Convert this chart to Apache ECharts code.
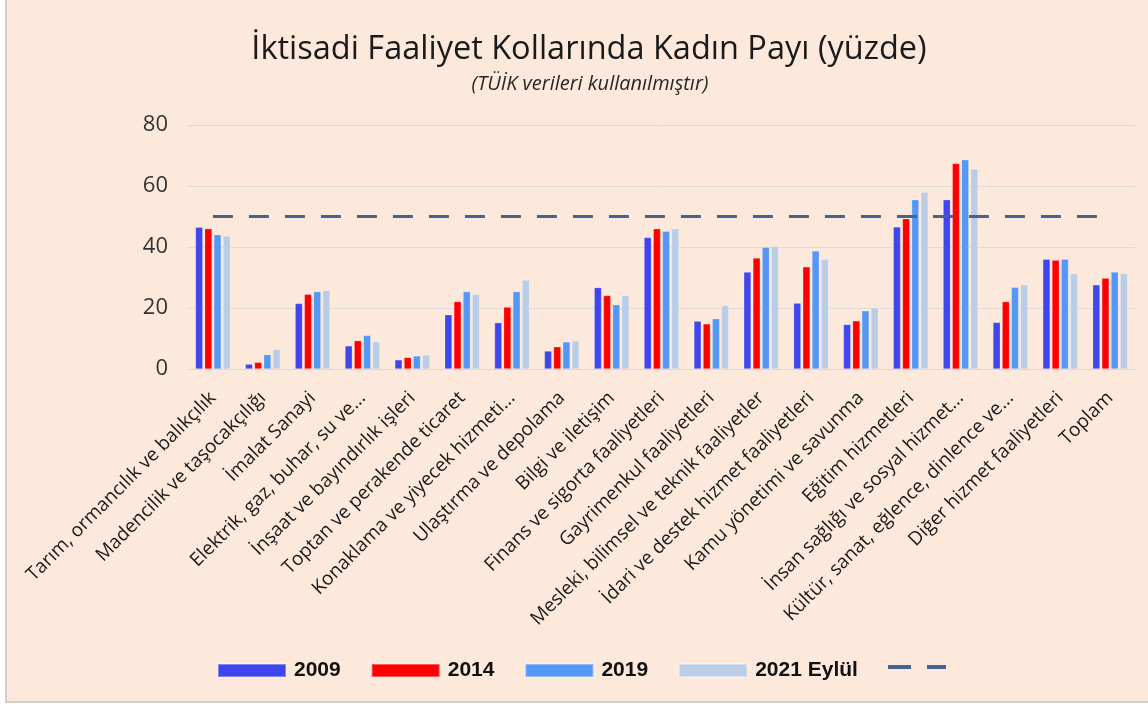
<!DOCTYPE html>
<html>
<head>
<meta charset="utf-8">
<script src="https://cdn.jsdelivr.net/npm/echarts@6/dist/echarts.min.js"></script>
<style>
	html, body { margin: 0; padding: 0; background: #fff; }
	#chart { width: 1148px; height: 706px; }
</style>
</head>
<body>
<div id="chart"></div>
<script>
	// kategoriler (grafikte görünen, kısaltılmış haliyle)
	var categories = [
		"Tarım, ormancılık ve balıkçılık",
		"Madencilik ve taşocakçılığı",
		"İmalat Sanayi",
		"Elektrik, gaz, buhar, su ve...",
		"İnşaat ve bayındırlık işleri",
		"Toptan ve perakende ticaret",
		"Konaklama ve yiyecek hizmeti...",
		"Ulaştırma ve depolama",
		"Bilgi ve iletişim",
		"Finans ve sigorta faaliyetleri",
		"Gayrimenkul faaliyetleri",
		"Mesleki, bilimsel ve teknik faaliyetler",
		"İdari ve destek hizmet faaliyetleri",
		"Kamu yönetimi ve savunma",
		"Eğitim hizmetleri",
		"İnsan sağlığı ve sosyal hizmet...",
		"Kültür, sanat, eğlence, dinlence ve...",
		"Diğer hizmet faaliyetleri",
		"Toplam"
	];

	var data2009 = [46.5, 1.6, 21.5, 7.6, 3.0, 17.8, 15.2, 5.9, 26.7, 43.1, 15.7, 31.8, 21.6, 14.6, 46.6, 55.5, 15.3, 36.0, 27.6];
	var data2014 = [46.0, 2.2, 24.5, 9.3, 3.8, 22.1, 20.3, 7.3, 24.1, 46.0, 14.8, 36.4, 33.5, 15.8, 49.3, 67.4, 22.1, 35.7, 29.8];
	var data2019 = [44.0, 4.7, 25.4, 11.0, 4.3, 25.4, 25.4, 8.9, 21.1, 45.2, 16.5, 39.9, 38.7, 19.1, 55.5, 68.6, 26.8, 36.0, 31.8];
	var data2021 = [43.6, 6.4, 25.8, 8.9, 4.6, 24.5, 29.2, 9.2, 24.1, 46.0, 20.8, 40.2, 36.0, 20.0, 58.0, 65.6, 27.6, 31.3, 31.3];

	// %50 referans çizgisi
	var refValue = 50;
	var refLine = categories.map(function() { return refValue; });

	var yTicks = [0, 20, 40, 60, 80];

	var seriesNames = ["2009", "2014", "2019", "2021 Eylül"];
	var seriesColors = ["#4046ee", "#ff0000", "#5597f7", "#b9cde6"];
	var seriesData = [data2009, data2014, data2019, data2021];

	var myChart = echarts.init(document.getElementById("chart"));

	var barSeries = seriesNames.map(function(name, i) {
		return {
			name: name,
			type: "bar",
			data: seriesData[i],
			barGap: "25%",
			barCategoryGap: "30%",
			itemStyle: {
				color: seriesColors[i],
				borderColor: "rgba(255,255,255,0.35)",
				borderWidth: 0.6
			}
		};
	});

	var option = {
		backgroundColor: "#ffffff",
		animation: false,
		textStyle: { fontFamily: "Open Sans" },
		graphic: [{
			type: "rect",
			z: -10,
			shape: { x: 6, y: -4, width: 1160, height: 706 },
			style: { fill: "#fde9db", stroke: "#cfcfcf", lineWidth: 2 }
		}],
		title: [{
			text: "İktisadi Faaliyet Kollarında Kadın Payı (yüzde)",
			left: 584,
			textAlign: "center",
			top: 28,
			textStyle: { fontSize: 32.5, fontWeight: "normal", color: "#1a1a1a", fontFamily: "Open Sans" }
		}, {
			text: "(TÜİK verileri kullanılmıştır)",
			left: 585,
			textAlign: "center",
			top: 69,
			textStyle: { fontSize: 20, fontWeight: "normal", fontStyle: "italic", color: "#262626", fontFamily: "Open Sans" }
		}],
		legend: [{
			left: 217,
			top: 660,
			padding: 0,
			itemWidth: 68,
			itemHeight: 13,
			itemGap: 30,
			textStyle: { fontSize: 21, fontWeight: "bold", color: "#111", fontFamily: "Liberation Sans", padding: [0, 0, 0, 3] },
			data: [
				{ name: "2009", icon: "rect" },
				{ name: "2014", icon: "rect" },
				{ name: "2019", icon: "rect" },
				{ name: "2021 Eylül", icon: "rect" }
			]
		}, {
			left: 888,
			top: 665,
			padding: 0,
			itemWidth: 58,
			itemHeight: 4,
			data: [{ name: "%50", icon: "path://M0,0H23V4H0Z M39,0H58V4H39Z" }],
			formatter: function() { return ""; }
		}],
		grid: {
			left: 188,
			right: 13,
			top: 125,
			bottom: 337
		},
		xAxis: {
			type: "category",
			data: categories,
			axisLine: { lineStyle: { color: "#d9d9d9", width: 1 } },
			axisTick: { show: false },
			axisLabel: {
				interval: 0,
				rotate: 45,
				margin: 26,
				fontSize: 19,
				color: "#1a1a1a",
				fontFamily: "Open Sans"
			}
		},
		yAxis: {
			type: "value",
			min: 0,
			max: 80,
			interval: 20,
			axisLine: { show: false },
			axisTick: { show: false },
			splitLine: { lineStyle: { color: "#dcdcdc", width: 1 } },
			axisLabel: {
				margin: 20,
				fontSize: 22,
				color: "#333333",
				fontFamily: "Open Sans",
				formatter: function(v) { return yTicks.indexOf(v) >= 0 ? v : ""; }
			}
		},
		series: barSeries.concat([{
			name: "%50",
			type: "line",
			data: refLine,
			symbol: "none",
			z: 5,
			lineStyle: { color: "#44648f", width: 3, type: [20, 16] },
			itemStyle: { color: "#44648f" }
		}])
	};

	myChart.setOption(option, true);
</script>
</body>
</html>
